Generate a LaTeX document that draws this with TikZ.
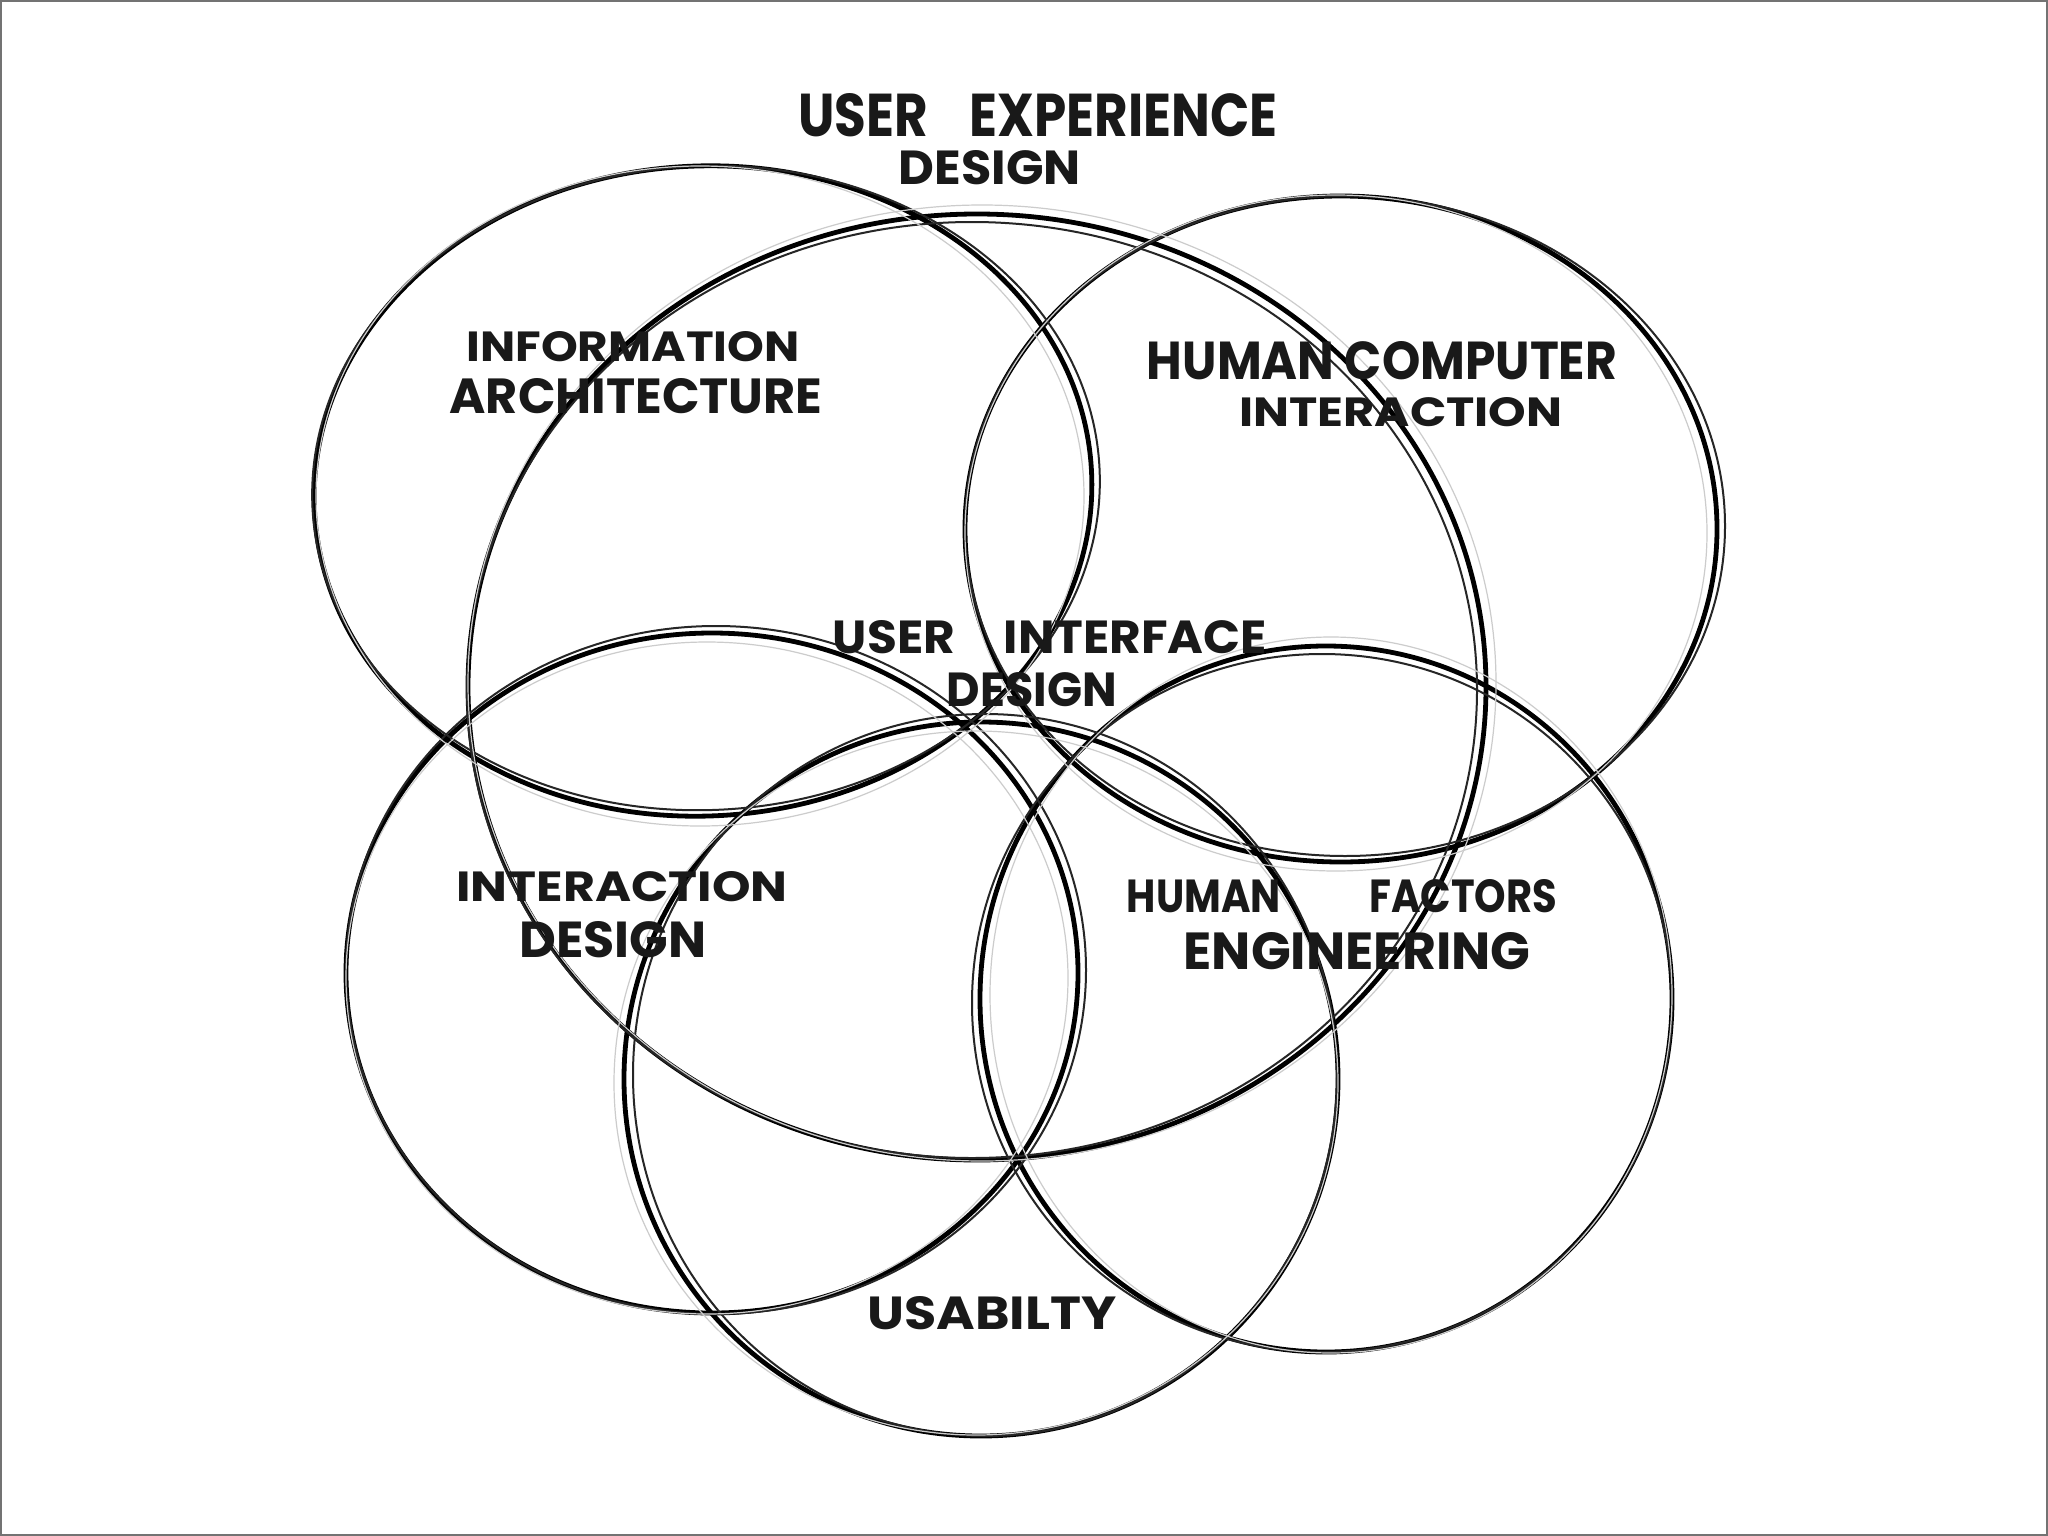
\documentclass[tikz,border=0pt]{standalone}
\usepackage{fontspec}
\setmainfont{Poppins}
\usetikzlibrary{shapes.geometric}
\newcommand{\fitlbl}[3]{\resizebox{#1pt}{#2pt}{\bfseries #3}}
\tikzset{
  ring/.style={ellipse, draw=black, line width=4.8pt, inner sep=0pt, outer sep=0pt},
  sketchA/.style={draw=black!85, line width=2pt},
  sketchB/.style={draw=black!20, line width=1.2pt},
  lbl/.style={inner sep=0pt, outer sep=0pt, text=black!90},
  frame/.style={draw=black!55, line width=2.5pt}
}
\begin{document}
\begin{tikzpicture}[x=1pt,y=-1pt]
\useasboundingbox (0,0) rectangle (2048,1536);
\fill[white] (0,0) rectangle (2048,1536);
\draw[frame] (1.2,1.2) rectangle (2046.8,1534.8);

% circles
\node[ring, minimum width=778pt, minimum height=650pt, rotate=3] (ia) at (703,491) {};
\node[ring, minimum width=752pt, minimum height=666pt] (hci) at (1341,529) {};
\node[ring, minimum width=1018pt, minimum height=946pt] (uid) at (977,687) {};
\node[ring, minimum width=732pt, minimum height=680pt] (id) at (712,973) {};
\node[ring, minimum width=692pt, minimum height=706pt] (hfe) at (1326,999) {};
\node[ring, minimum width=714pt, minimum height=714pt] (usa) at (981,1079) {};

% sketchy extra strokes
\draw[sketchA, rotate around={3:(706,488)}] (706,488) ellipse [x radius=394pt, y radius=322pt];
\draw[sketchA] (1345,526) ellipse [x radius=380pt, y radius=330pt];
\draw[sketchA] (972,690) ellipse [x radius=505pt, y radius=468pt];
\draw[sketchA] (716,970) ellipse [x radius=370pt, y radius=344pt];
\draw[sketchA] (1322,1003) ellipse [x radius=350pt, y radius=349pt];
\draw[sketchA] (985,1075) ellipse [x radius=352pt, y radius=361pt];
\draw[sketchB] (700,496) ellipse [x radius=384pt, y radius=330pt];
\draw[sketchB] (1336,533) ellipse [x radius=371pt, y radius=338pt];
\draw[sketchB] (982,683) ellipse [x radius=514pt, y radius=478pt];
\draw[sketchB] (707,978) ellipse [x radius=361pt, y radius=336pt];
\draw[sketchB] (1331,995) ellipse [x radius=341pt, y radius=358pt];
\draw[sketchB] (976,1083) ellipse [x radius=362pt, y radius=352pt];

% labels
\node[lbl] (uxd1) at (1038,115) {\fitlbl{479}{43}{USER\hspace{0.8em}EXPERIENCE}};
\node[lbl] (uxd2) at (990,168) {\fitlbl{182}{34}{DESIGN}};
\node[lbl] (ia1) at (633,347) {\fitlbl{333}{30}{INFORMATION}};
\node[lbl] (ia2) at (636,396) {\fitlbl{373}{35}{ARCHITECTURE}};
\node[lbl] (hci1) at (1382,361) {\fitlbl{470}{38}{HUMAN COMPUTER}};
\node[lbl] (hci2) at (1401,412) {\fitlbl{323}{29}{INTERACTION}};
\node[lbl] (uid1) at (1050,637) {\fitlbl{434}{33}{USER\hspace{1em}INTERFACE}};
\node[lbl] (uid2) at (1032,690) {\fitlbl{170}{34}{DESIGN}};
\node[lbl] (id1) at (622,887) {\fitlbl{331}{30}{INTERACTION}};
\node[lbl] (id2) at (613,940) {\fitlbl{187}{36}{DESIGN}};
\node[lbl] (hfe1) at (1342,896) {\fitlbl{430}{33}{HUMAN\hspace{2.2em}FACTORS}};
\node[lbl] (hfe2) at (1357,951) {\fitlbl{347}{37}{ENGINEERING}};
\node[lbl] (usa1) at (992,1313) {\fitlbl{249}{33}{USABILTY}};
\end{tikzpicture}
\end{document}
